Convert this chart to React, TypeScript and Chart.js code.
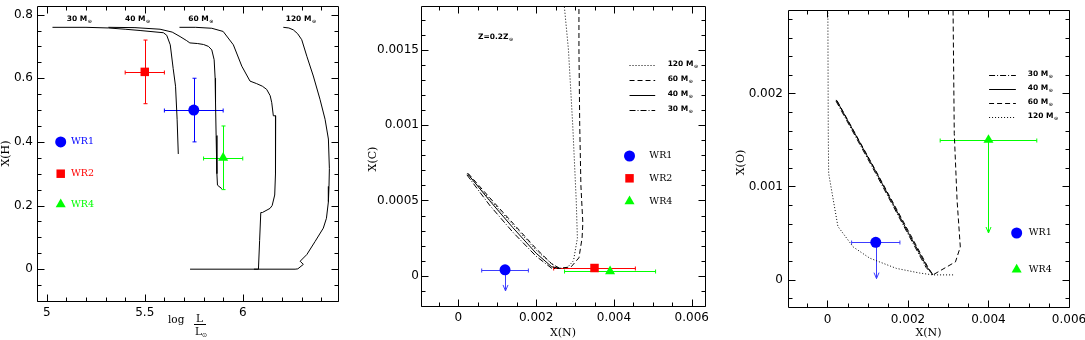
import React, { useEffect, useRef } from "react";
import { Chart, registerables } from "chart.js";

Chart.register(...registerables);

const BLUE = "#0000ff";
const RED = "#ff0000";
const GREEN = "#00ff00";
const BLACK = "#000000";

const TICK_FAMILY = "DejaVu Sans";
const TITLE_FONT = "11px DejaVu Serif";
const WR_FONT = "9.5px DejaVu Serif";
const MASS_FONT = "bold 7.5px DejaVu Sans";
const MASS_SUB_FONT = "bold 5px DejaVu Sans";

const DOTTED = [1, 2];
const DASHED = [5, 3];
const SOLID: number[] = [];
const DASHDOT = [6, 2, 1, 2];

// ---------------- Panel 1: X(H) vs log L/Lsun ----------------
const p1XTicks = [5, 5.5, 6];
const p1XTickLabels = ["5", "5.5", "6"];
const p1YTicks = [0, 0.2, 0.4, 0.6, 0.8];
const p1YTickLabels = ["0", "0.2", "0.4", "0.6", "0.8"];

const hrd30X = [5.029, 5.2, 5.314, 5.4, 5.476, 5.595, 5.612, 5.63, 5.645, 5.657, 5.665, 5.671];
const hrd30Y = [0.76, 0.76, 0.758, 0.754, 0.75, 0.743, 0.735, 0.705, 0.63, 0.575, 0.471, 0.362];

const hrd40X = [5.314, 5.45, 5.578, 5.64, 5.68, 5.714, 5.73, 5.77, 5.8, 5.825, 5.842, 5.854, 5.859, 5.861, 5.864, 5.868, 5.871, 5.893];
const hrd40Y = [0.76, 0.759, 0.754, 0.745, 0.731, 0.718, 0.711, 0.709, 0.706, 0.7, 0.689, 0.658, 0.6, 0.523, 0.42, 0.3, 0.264, 0.253];

const hrd60X = [5.677, 5.76, 5.842, 5.9, 5.952, 5.995, 6.037, 6.071, 6.1, 6.122, 6.14, 6.148, 6.156, 6.168, 6.168, 6.166, 6.163, 6.15, 6.139, 6.1, 6.092, 6.086, 6.08, 6.057];
const hrd60Y = [0.76, 0.76, 0.757, 0.747, 0.705, 0.638, 0.591, 0.583, 0.575, 0.565, 0.545, 0.523, 0.482, 0.482, 0.37, 0.3, 0.233, 0.2, 0.191, 0.178, 0.178, 0.09, 0.0, 0.0];

const hrd120X = [6.207, 6.235, 6.258, 6.28, 6.301, 6.327, 6.36, 6.394, 6.42, 6.437, 6.442, 6.44, 6.437, 6.427, 6.411, 6.369, 6.327, 6.293, 6.309, 6.281, 6.267, 5.731];
const hrd120Y = [0.76, 0.758, 0.752, 0.74, 0.721, 0.669, 0.607, 0.534, 0.471, 0.409, 0.316, 0.26, 0.212, 0.16, 0.129, 0.087, 0.046, 0.025, 0.015, 0.001, 0.0, 0.0];

const p1ObsX = [5.75, 5.5, 5.9];
const p1ObsY = [0.5, 0.62, 0.35];
const p1ObsXErr = [0.15, 0.1, 0.1];
const p1ObsYErr = [0.1, 0.1, 0.1];
const p1LegendX = 5.071;
const p1LegendY = [0.4, 0.3, 0.204];
const p1LegendTextX = 5.124;
const p1MassLabels = ["30 M", "40 M", "60 M", "120 M"];
const p1MassLabelX = [5.102, 5.399, 5.722, 6.219];
const p1MassLabelY = 0.787;

// ---------------- Panel 2: X(C) vs X(N) ----------------
const p2XTicks = [0, 0.002, 0.004, 0.006];
const p2XTickLabels = ["0", "0.002", "0.004", "0.006"];
const p2YTicks = [0, 0.0005, 0.001, 0.0015];
const p2YTickLabels = ["0", "0.0005", "0.001", "0.0015"];

const c120X = [0.00025, 0.0008, 0.0014, 0.002, 0.0024, 0.0026, 0.0028, 0.00296, 0.00306, 0.00303, 0.00294, 0.00283, 0.00272];
const c120Y = [0.00067, 0.00051, 0.00034, 0.00017, 0.00008, 0.00005, 0.000055, 0.0001, 0.00025, 0.0005, 0.001, 0.0015, 0.0018];
const c60X = [0.00025, 0.0008, 0.0014, 0.002, 0.0024, 0.0026, 0.0029, 0.0031, 0.00318, 0.0032, 0.00315, 0.00312, 0.0031, 0.0031];
const c60Y = [0.00068, 0.00052, 0.00035, 0.00018, 0.00008, 0.00005, 0.00006, 0.00012, 0.00025, 0.00035, 0.0006, 0.001, 0.0015, 0.0018];
const c40X = [0.00023, 0.0008, 0.0014, 0.002, 0.0024, 0.0026];
const c40Y = [0.00068, 0.0005, 0.00032, 0.00015, 0.00006, 0.00005];
const c30X = [0.00022, 0.0008, 0.0014, 0.002, 0.0024, 0.0026];
const c30Y = [0.00067, 0.00047, 0.00029, 0.00013, 0.00005, 0.00005];

const p2ObsX = [0.0012, 0.0035, 0.0039];
const p2ObsY = [0.00004, 0.000052, 0.00003];
const p2ObsXErr = [0.0006, 0.00105, 0.00117];
const p2WR1Limit = -0.0001;
const p2LegendX = 0.0044;
const p2LegendY = [0.000795, 0.000647, 0.000494];
const p2LegendTextX = 0.00491;
const p2LineLegendY = [0.0014, 0.0013, 0.0012, 0.0011];
const p2LineLegendLabels = ["120 M", "60 M", "40 M", "30 M"];
const p2LineLegendX = [0.0044, 0.00506, 0.00538];
const p2NoteX = 0.000506;
const p2NoteY = 0.001585;

// ---------------- Panel 3: X(O) vs X(N) ----------------
const p3XTicks = [0, 0.002, 0.004, 0.006];
const p3XTickLabels = ["0", "0.002", "0.004", "0.006"];
const p3YTicks = [0, 0.001, 0.002];
const p3YTickLabels = ["0", "0.001", "0.002"];

const o30X = [0.00021, 0.0012, 0.002, 0.00245, 0.00262];
const o30Y = [0.00192, 0.00114, 0.00049, 0.00013, 0.00005];
const o40X = [0.00022, 0.0012, 0.002, 0.00248, 0.00262];
const o40Y = [0.00193, 0.00116, 0.00051, 0.00013, 0.00005];
const o60X = [0.00024, 0.0012, 0.002, 0.0025, 0.00262, 0.00318, 0.0033, 0.00322, 0.00315, 0.00312];
const o60Y = [0.00192, 0.00117, 0.00053, 0.00013, 0.00005, 0.00019, 0.00035, 0.00085, 0.00157, 0.0029];
const o120X = [0.00001, 0.00002, 0.00003, 0.00026, 0.00064, 0.00105, 0.00171, 0.00229, 0.00262, 0.00316];
const o120Y = [0.0029, 0.0016, 0.00114, 0.00057, 0.00035, 0.00023, 0.00012, 0.00007, 0.00005, 0.00005];

const p3ObsX = [0.0012, 0.004];
const p3ObsY = [0.0004, 0.0015];
const p3ObsXErr = [0.0006, 0.0012];
const p3Limits = [0.00001, 0.0005];
const p3LegendX = 0.0047;
const p3LegendY = [0.0005, 0.000107];
const p3LegendTextX = 0.005;
const p3LineLegendY = [0.0022, 0.00205, 0.0019, 0.00175];
const p3LineLegendLabels = ["30 M", "40 M", "60 M", "120 M"];
const p3LineLegendX = [0.004015, 0.00468, 0.004977];

// ---------------------------------------------------------------
type Pt = { x: number; y: number };
const pts = (xs: number[], ys: number[]): Pt[] => xs.map((x, i) => ({ x, y: ys[i] }));

const track = (xs: number[], ys: number[], dash: number[]) => ({
  data: pts(xs, ys),
  showLine: true,
  borderColor: BLACK,
  borderWidth: 1,
  borderDash: dash,
  pointRadius: 0,
  pointHoverRadius: 0,
  fill: false,
  tension: 0,
});

const marker = (xs: number[], ys: number[], style: string, color: string, r: number) => ({
  data: pts(xs, ys),
  showLine: false,
  pointStyle: style,
  pointRadius: r,
  pointHoverRadius: r,
  backgroundColor: color,
  borderColor: color,
  borderWidth: 0,
});

interface ErrBar { x: number; y: number; xErr?: number; yErr?: number; limitTo?: number; color: string; }
interface TextItem { text: string; sub?: string; x: number; y: number; color: string; font: string; subFont?: string; }
interface LegendLine { x0: number; x1: number; lx: number; y: number; dash: number[]; label: string; }
interface PanelCfg {
  left: number; width: number; height: number;
  xMin: number; xMax: number; yMin: number; yMax: number;
  xTicks: number[]; xTickLabels: string[]; yTicks: number[]; yTickLabels: string[];
  xMinor: number; yMinor: number;
  yAxisWidth: number; xAxisHeight: number; padTop: number; padRight: number;
  yTickPad: number; xTickPad: number;
  datasets: any[];
  errBars: ErrBar[];
  texts: TextItem[];
  legendLines: LegendLine[];
  yTitle: { text: string; dx: number; dy: number };
  xTitle?: { text: string; dy: number };
  logTitle?: boolean;
}

const panel1: PanelCfg = {
  left: 0, width: 360, height: 340,
  xMin: 4.95, xMax: 6.486, yMin: -0.1, yMax: 0.827,
  xTicks: p1XTicks, xTickLabels: p1XTickLabels, yTicks: p1YTicks, yTickLabels: p1YTickLabels,
  xMinor: 0.1, yMinor: 0.05,
  yAxisWidth: 37, xAxisHeight: 39, padTop: 2, padRight: 22, yTickPad: 4, xTickPad: 5,
  datasets: [
    marker([p1ObsX[0], p1LegendX], [p1ObsY[0], p1LegendY[0]], "circle", BLUE, 5.5),
    marker([p1ObsX[1], p1LegendX], [p1ObsY[1], p1LegendY[1]], "rect", RED, 6),
    marker([p1ObsX[2], p1LegendX], [p1ObsY[2], p1LegendY[2]], "triangle", GREEN, 5.8),
    track(hrd30X, hrd30Y, SOLID),
    track(hrd40X, hrd40Y, SOLID),
    track(hrd60X, hrd60Y, SOLID),
    track(hrd120X, hrd120Y, SOLID),
  ],
  errBars: [
    { x: p1ObsX[0], y: p1ObsY[0], xErr: p1ObsXErr[0], yErr: p1ObsYErr[0], color: BLUE },
    { x: p1ObsX[1], y: p1ObsY[1], xErr: p1ObsXErr[1], yErr: p1ObsYErr[1], color: RED },
    { x: p1ObsX[2], y: p1ObsY[2], xErr: p1ObsXErr[2], yErr: p1ObsYErr[2], color: GREEN },
  ],
  texts: [
    { text: "WR1", x: p1LegendTextX, y: p1LegendY[0], color: BLUE, font: WR_FONT },
    { text: "WR2", x: p1LegendTextX, y: p1LegendY[1], color: RED, font: WR_FONT },
    { text: "WR4", x: p1LegendTextX, y: p1LegendY[2], color: GREEN, font: WR_FONT },
    ...p1MassLabels.map((t, i) => ({ text: t, sub: "\u2299", x: p1MassLabelX[i], y: p1MassLabelY, color: BLACK, font: MASS_FONT, subFont: MASS_SUB_FONT })),
  ],
  legendLines: [],
  yTitle: { text: "X(H)", dx: 6, dy: 0 },
  logTitle: true,
};

const p2Dashes = [DOTTED, DASHED, SOLID, DASHDOT];
const panel2: PanelCfg = {
  left: 360, width: 360, height: 340,
  xMin: -0.00096, xMax: 0.00634, yMin: -0.0002, yMax: 0.00179,
  xTicks: p2XTicks, xTickLabels: p2XTickLabels, yTicks: p2YTicks, yTickLabels: p2YTickLabels,
  xMinor: 0.0005, yMinor: 0.0001,
  yAxisWidth: 61, xAxisHeight: 34, padTop: 2, padRight: 15, yTickPad: 2, xTickPad: 5,
  datasets: [
    track(c120X, c120Y, DOTTED),
    track(c60X, c60Y, DASHED),
    track(c40X, c40Y, SOLID),
    track(c30X, c30Y, DASHDOT),
    marker([p2ObsX[0], p2LegendX], [p2ObsY[0], p2LegendY[0]], "circle", BLUE, 5.5),
    marker([p2ObsX[1], p2LegendX], [p2ObsY[1], p2LegendY[1]], "rect", RED, 6),
    marker([p2ObsX[2], p2LegendX], [p2ObsY[2], p2LegendY[2]], "triangle", GREEN, 5.8),
  ],
  errBars: [
    { x: p2ObsX[0], y: p2ObsY[0], xErr: p2ObsXErr[0], limitTo: p2WR1Limit, color: "#3c3cff" },
    { x: p2ObsX[1], y: p2ObsY[1], xErr: p2ObsXErr[1], color: RED },
    { x: p2ObsX[2], y: p2ObsY[2], xErr: p2ObsXErr[2], color: GREEN },
  ],
  texts: [
    { text: "WR1", x: p2LegendTextX, y: p2LegendY[0], color: BLACK, font: WR_FONT },
    { text: "WR2", x: p2LegendTextX, y: p2LegendY[1], color: BLACK, font: WR_FONT },
    { text: "WR4", x: p2LegendTextX, y: p2LegendY[2], color: BLACK, font: WR_FONT },
    { text: "Z=0.2Z", sub: "\u2299", x: p2NoteX, y: p2NoteY, color: BLACK, font: MASS_FONT, subFont: MASS_SUB_FONT },
  ],
  legendLines: p2LineLegendLabels.map((label, i) => ({
    x0: p2LineLegendX[0], x1: p2LineLegendX[1], lx: p2LineLegendX[2], y: p2LineLegendY[i], dash: p2Dashes[i], label,
  })),
  yTitle: { text: "X(C)", dx: 13.5, dy: 3 },
  xTitle: { text: "X(N)", dy: 333 },
};

const p3Dashes = [DASHDOT, SOLID, DASHED, DOTTED];
const panel3: PanelCfg = {
  left: 720, width: 365, height: 340,
  xMin: -0.00098, xMax: 0.006, yMin: -0.000295, yMax: 0.002896,
  xTicks: p3XTicks, xTickLabels: p3XTickLabels, yTicks: p3YTicks, yTickLabels: p3YTickLabels,
  xMinor: 0.0005, yMinor: 0.0002,
  yAxisWidth: 68, xAxisHeight: 33, padTop: 10, padRight: 16, yTickPad: 5, xTickPad: 6,
  datasets: [
    track(o120X, o120Y, DOTTED),
    track(o60X, o60Y, DASHED),
    track(o40X, o40Y, SOLID),
    track(o30X, o30Y, DASHDOT),
    marker([p3ObsX[0], p3LegendX], [p3ObsY[0], p3LegendY[0]], "circle", BLUE, 5.5),
    marker([p3ObsX[1], p3LegendX], [p3ObsY[1], p3LegendY[1]], "triangle", GREEN, 5.8),
  ],
  errBars: [
    { x: p3ObsX[0], y: p3ObsY[0], xErr: p3ObsXErr[0], limitTo: p3Limits[0], color: "#3c3cff" },
    { x: p3ObsX[1], y: p3ObsY[1], xErr: p3ObsXErr[1], limitTo: p3Limits[1], color: GREEN },
  ],
  texts: [
    { text: "WR1", x: p3LegendTextX, y: p3LegendY[0], color: BLACK, font: WR_FONT },
    { text: "WR4", x: p3LegendTextX, y: p3LegendY[1], color: BLACK, font: WR_FONT },
  ],
  legendLines: p3LineLegendLabels.map((label, i) => ({
    x0: p3LineLegendX[0], x1: p3LineLegendX[1], lx: p3LineLegendX[2], y: p3LineLegendY[i], dash: p3Dashes[i], label,
  })),
  yTitle: { text: "X(O)", dx: 21, dy: 4 },
  xTitle: { text: "X(N)", dy: 333 },
};

const PANELS = [panel1, panel2, panel3];

function drawText(ctx: CanvasRenderingContext2D, t: TextItem, px: number, py: number) {
  ctx.font = t.font;
  ctx.fillStyle = t.color;
  ctx.textAlign = "left";
  ctx.textBaseline = "middle";
  ctx.fillText(t.text, px, py);
  if (t.sub) {
    const w = ctx.measureText(t.text).width;
    ctx.font = t.subFont || t.font;
    ctx.fillText(t.sub, px + w + 0.5, py + 2.5);
  }
}

function makePlugin(cfg: PanelCfg) {
  return {
    id: "panelDecor",
    beforeDatasetsDraw(chart: any) {
      const { ctx, scales } = chart;
      const xs = scales.x, ys = scales.y;
      ctx.save();
      ctx.lineWidth = 1;
      ctx.setLineDash([]);
      for (const e of cfg.errBars) {
        ctx.strokeStyle = e.color;
        const px = Math.round(xs.getPixelForValue(e.x)) + 0.5;
        const py = Math.round(ys.getPixelForValue(e.y)) + 0.5;
        ctx.beginPath();
        if (e.xErr != null) {
          const a = xs.getPixelForValue(e.x - e.xErr), b = xs.getPixelForValue(e.x + e.xErr);
          ctx.moveTo(a, py); ctx.lineTo(b, py);
          ctx.moveTo(a, py - 2); ctx.lineTo(a, py + 2);
          ctx.moveTo(b, py - 2); ctx.lineTo(b, py + 2);
        }
        if (e.yErr != null) {
          const a = ys.getPixelForValue(e.y - e.yErr), b = ys.getPixelForValue(e.y + e.yErr);
          ctx.moveTo(px, a); ctx.lineTo(px, b);
          ctx.moveTo(px - 2, a); ctx.lineTo(px + 2, a);
          ctx.moveTo(px - 2, b); ctx.lineTo(px + 2, b);
        }
        if (e.limitTo != null) {
          const t = ys.getPixelForValue(e.limitTo);
          ctx.moveTo(px, py); ctx.lineTo(px, t);
          ctx.moveTo(px - 2.5, t - 6); ctx.lineTo(px, t); ctx.lineTo(px + 2.5, t - 6);
        }
        ctx.stroke();
      }
      ctx.restore();
    },
    afterDatasetsDraw(chart: any) {
      const { ctx, scales } = chart;
      const xs = scales.x, ys = scales.y;
      ctx.save();
      for (const t of cfg.texts) {
        drawText(ctx, t, xs.getPixelForValue(t.x), ys.getPixelForValue(t.y));
      }
      for (const l of cfg.legendLines) {
        const py = Math.round(ys.getPixelForValue(l.y)) + 0.5;
        ctx.strokeStyle = BLACK;
        ctx.lineWidth = 1;
        ctx.setLineDash(l.dash);
        ctx.beginPath();
        ctx.moveTo(xs.getPixelForValue(l.x0), py);
        ctx.lineTo(xs.getPixelForValue(l.x1), py);
        ctx.stroke();
        ctx.setLineDash([]);
        drawText(ctx, { text: l.label, sub: "\u2299", x: 0, y: 0, color: BLACK, font: MASS_FONT, subFont: MASS_SUB_FONT }, xs.getPixelForValue(l.lx), py - 1);
      }
      ctx.restore();
    },
    afterDraw(chart: any) {
      const { ctx, chartArea, scales } = chart;
      const xs = scales.x, ys = scales.y;
      const L = Math.round(chartArea.left) + 0.5, R = Math.round(chartArea.right) + 0.5;
      const T = Math.round(chartArea.top) + 0.5, B = Math.round(chartArea.bottom) + 0.5;
      ctx.save();
      ctx.strokeStyle = BLACK;
      ctx.lineWidth = 1;
      ctx.setLineDash([]);
      ctx.beginPath();
      ctx.rect(L, T, R - L, B - T);
      const isMajor = (v: number, majors: number[], step: number) => majors.some((m) => Math.abs(m - v) < step * 1e-3);
      let i0 = Math.ceil(xs.min / cfg.xMinor - 1e-6), i1 = Math.floor(xs.max / cfg.xMinor + 1e-6);
      for (let i = i0; i <= i1; i++) {
        const v = i * cfg.xMinor;
        const len = isMajor(v, cfg.xTicks, cfg.xMinor) ? 7 : 4;
        const p = Math.round(xs.getPixelForValue(v)) + 0.5;
        ctx.moveTo(p, B); ctx.lineTo(p, B - len);
        ctx.moveTo(p, T); ctx.lineTo(p, T + len);
      }
      i0 = Math.ceil(ys.min / cfg.yMinor - 1e-6); i1 = Math.floor(ys.max / cfg.yMinor + 1e-6);
      for (let i = i0; i <= i1; i++) {
        const v = i * cfg.yMinor;
        const len = isMajor(v, cfg.yTicks, cfg.yMinor) ? 7 : 4;
        const p = Math.round(ys.getPixelForValue(v)) + 0.5;
        ctx.moveTo(L, p); ctx.lineTo(L + len, p);
        ctx.moveTo(R, p); ctx.lineTo(R - len, p);
      }
      ctx.stroke();

      // axis titles
      ctx.fillStyle = BLACK;
      ctx.font = TITLE_FONT;
      ctx.textAlign = "center";
      ctx.textBaseline = "middle";
      ctx.save();
      ctx.translate(cfg.yTitle.dx, (chartArea.top + chartArea.bottom) / 2 + cfg.yTitle.dy);
      ctx.rotate(-Math.PI / 2);
      ctx.fillText(cfg.yTitle.text, 0, 0);
      ctx.restore();
      if (cfg.xTitle) {
        ctx.fillText(cfg.xTitle.text, (chartArea.left + chartArea.right) / 2, cfg.xTitle.dy);
      }
      if (cfg.logTitle) {
        ctx.textBaseline = "alphabetic";
        ctx.textAlign = "left";
        ctx.font = "10.5px DejaVu Serif";
        ctx.fillText("log", 168, 323);
        ctx.textAlign = "center";
        ctx.fillText("L", 199.5, 322);
        ctx.beginPath();
        ctx.moveTo(194, 324.5);
        ctx.lineTo(206, 324.5);
        ctx.stroke();
        ctx.fillText("L", 198.5, 335);
        ctx.font = "6px DejaVu Sans";
        ctx.textAlign = "left";
        ctx.fillText("\u2299", 202, 337);
      }
      ctx.restore();
    },
  };
}

function buildConfig(cfg: PanelCfg): any {
  return {
    type: "scatter",
    data: { datasets: cfg.datasets },
    options: {
      responsive: false,
      maintainAspectRatio: false,
      animation: false,
      devicePixelRatio: 1,
      events: [],
      layout: { padding: { left: 0, top: cfg.padTop, right: cfg.padRight, bottom: 0 } },
      plugins: { legend: { display: false }, tooltip: { enabled: false } },
      scales: {
        x: {
          type: "linear",
          min: cfg.xMin,
          max: cfg.xMax,
          grid: { display: false, drawTicks: false, tickLength: 0 },
          border: { display: false },
          ticks: {
            font: { family: TICK_FAMILY, size: 12 },
            color: BLACK,
            padding: cfg.xTickPad,
            autoSkip: false,
            maxRotation: 0,
            minRotation: 0,
            callback: (_v: any, i: number) => cfg.xTickLabels[i],
          },
          afterBuildTicks: (s: any) => {
            s.ticks = cfg.xTicks.map((v) => ({ value: v }));
          },
          afterFit: (s: any) => {
            s.height = cfg.xAxisHeight;
            s.paddingLeft = 0;
            s.paddingRight = 0;
          },
        },
        y: {
          type: "linear",
          min: cfg.yMin,
          max: cfg.yMax,
          grid: { display: false, drawTicks: false, tickLength: 0 },
          border: { display: false },
          ticks: {
            font: { family: TICK_FAMILY, size: 12 },
            color: BLACK,
            padding: cfg.yTickPad,
            autoSkip: false,
            callback: (_v: any, i: number) => cfg.yTickLabels[i],
          },
          afterBuildTicks: (s: any) => {
            s.ticks = cfg.yTicks.map((v) => ({ value: v }));
          },
          afterFit: (s: any) => {
            s.width = cfg.yAxisWidth;
            s.paddingTop = 0;
            s.paddingBottom = 0;
          },
        },
      },
    },
    plugins: [makePlugin(cfg)],
  };
}

function Panel({ cfg }: { cfg: PanelCfg }) {
  const ref = useRef<HTMLCanvasElement>(null);
  useEffect(() => {
    if (!ref.current) return;
    const chart = new Chart(ref.current, buildConfig(cfg));
    return () => chart.destroy();
  }, [cfg]);
  return (
    <div style={{ position: "absolute", left: cfg.left, top: 0, width: cfg.width, height: cfg.height }}>
      <canvas ref={ref} width={cfg.width} height={cfg.height} style={{ display: "block", width: cfg.width, height: cfg.height }} />
    </div>
  );
}

export default function App() {
  return (
    <div style={{ position: "absolute", left: 0, top: 0, width: 1085, height: 340, background: "#ffffff", overflow: "hidden" }}>
      {PANELS.map((p, i) => (
        <Panel key={i} cfg={p} />
      ))}
    </div>
  );
}
